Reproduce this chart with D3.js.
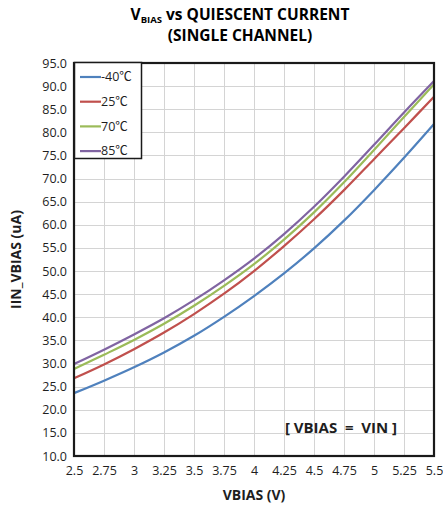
<!DOCTYPE html>
<html>
<head>
<meta charset="utf-8">
<script src="https://cdn.jsdelivr.net/npm/d3@7"></script>
<style>
  html, body { margin: 0; padding: 0; background: #fff; }
  svg { display: block; font-family: "Open Sans", "Noto Sans", sans-serif; }
</style>
</head>
<body>
<svg id="chart" width="443" height="512"></svg>
<script>
// Bias voltage sweep (V)
const vbias = [2.5, 2.75, 3, 3.25, 3.5, 3.75, 4, 4.25, 4.5, 4.75, 5, 5.25, 5.5];

// Quiescent current IIN_VBIAS (uA) per temperature
const iM40 = [23.6, 26.3, 29.2, 32.4, 36.0, 40.1, 44.6, 49.5, 54.9, 60.9, 67.5, 74.5, 81.8];
const i25  = [26.8, 29.8, 33.1, 36.7, 40.7, 45.1, 50.0, 55.4, 61.2, 67.5, 74.2, 80.9, 87.7];
const i70  = [28.8, 31.9, 35.1, 38.6, 42.5, 46.8, 51.5, 56.8, 62.7, 69.2, 76.2, 83.3, 90.4];
const i85  = [29.9, 33.0, 36.3, 39.8, 43.7, 48.0, 52.7, 58.0, 63.9, 70.4, 77.3, 84.3, 91.1];

const seriesTemps = ["-40", "25", "70", "85"];
const seriesColors = ["#4F81BD", "#C0504D", "#9BBB59", "#8064A2"];

const xTicks = [2.5, 2.75, 3, 3.25, 3.5, 3.75, 4, 4.25, 4.5, 4.75, 5, 5.25, 5.5];
const yTicks = d3.range(10, 95.01, 5);

const series = [iM40, i25, i70, i85].map((vals, k) => ({
  temp: seriesTemps[k],
  color: seriesColors[k],
  points: vbias.map((v, i) => [v, vals[i]])
}));

const svg = d3.select("#chart");
const plot = { left: 74, right: 434, top: 63, bottom: 456 };

const x = d3.scaleLinear().domain([2.5, 5.5]).range([plot.left, plot.right]);
const y = d3.scaleLinear().domain([10, 95]).range([plot.bottom, plot.top]);

// Title
const title = svg.append("text")
  .attr("x", 240).attr("y", 20)
  .attr("text-anchor", "middle")
  .attr("font-weight", "bold").attr("font-size", 15.5)
  .attr("fill", "#000");
title.append("tspan").text("V");
title.append("tspan").attr("font-size", 9.5).attr("dy", 3).text("BIAS");
title.append("tspan").attr("dy", -3).text(" vs QUIESCENT CURRENT");

svg.append("text")
  .attr("x", 240).attr("y", 41)
  .attr("text-anchor", "middle")
  .attr("font-weight", "bold").attr("font-size", 15.5)
  .text("(SINGLE CHANNEL)");

// Gridlines
const grid = svg.append("g").attr("stroke", "#d4d4d4").attr("stroke-width", 1);
grid.selectAll("line.h").data(yTicks).join("line")
  .attr("x1", plot.left).attr("x2", plot.right)
  .attr("y1", d => Math.round(y(d)) + 0.5).attr("y2", d => Math.round(y(d)) + 0.5);
grid.selectAll("line.v").data(xTicks).join("line")
  .attr("y1", plot.top).attr("y2", plot.bottom)
  .attr("x1", d => Math.round(x(d)) + 0.5).attr("x2", d => Math.round(x(d)) + 0.5);

// Axes (labels only; frame drawn separately)
const yAxis = svg.append("g")
  .attr("transform", `translate(${plot.left},0)`)
  .call(d3.axisLeft(y).tickValues(yTicks).tickFormat(d3.format(".1f")).tickSize(0).tickPadding(7));
const xAxis = svg.append("g")
  .attr("transform", `translate(0,${plot.bottom})`)
  .call(d3.axisBottom(x).tickValues(xTicks).tickFormat(d => String(d)).tickSize(0).tickPadding(10));
[yAxis, xAxis].forEach(g => {
  g.select(".domain").remove();
  g.selectAll("text").attr("font-size", 12.5).attr("fill", "#1e1e1e")
    .attr("font-family", "'Open Sans', 'Noto Sans', sans-serif");
});

// Curves
const line = d3.line()
  .x(d => x(d[0])).y(d => y(d[1]))
  .curve(d3.curveCatmullRom.alpha(0.5));
svg.append("g").selectAll("path").data(series).join("path")
  .attr("d", d => line(d.points))
  .attr("fill", "none")
  .attr("stroke", d => d.color)
  .attr("stroke-width", 2.2);

// Plot frame
svg.append("rect")
  .attr("x", plot.left).attr("y", plot.top)
  .attr("width", plot.right - plot.left).attr("height", plot.bottom - plot.top)
  .attr("fill", "none").attr("stroke", "#1a1a1a").attr("stroke-width", 2.2);

// Legend
const legend = svg.append("g");
legend.append("rect")
  .attr("x", plot.left + 0.5).attr("y", 62.5)
  .attr("width", 67).attr("height", 96)
  .attr("fill", "#fff").attr("stroke", "#1a1a1a").attr("stroke-width", 1.5);
const items = legend.selectAll("g.item").data(series).join("g")
  .attr("transform", (d, i) => `translate(0,${77 + i * 24.7})`);
items.append("line")
  .attr("x1", 80).attr("x2", 101).attr("y1", 0).attr("y2", 0)
  .attr("stroke", d => d.color).attr("stroke-width", 2.2);
const itemText = items.append("text")
  .attr("x", 101).attr("y", 0).attr("dy", "0.35em")
  .attr("font-size", 12.5).attr("fill", "#1e1e1e");
itemText.append("tspan").text(d => d.temp);
itemText.append("tspan")
  .attr("font-family", "'Noto Sans CJK SC', sans-serif")
  .attr("font-size", 12.5)
  .text("℃");

// Annotation
svg.append("text")
  .attr("x", 341).attr("y", 433)
  .attr("text-anchor", "middle")
  .attr("font-weight", "bold").attr("font-size", 15).attr("fill", "#1e1e1e")
  .attr("xml:space", "preserve")
  .text("[ VBIAS  =  VIN ]");

// Axis titles
svg.append("text")
  .attr("x", (plot.left + plot.right) / 2).attr("y", 500)
  .attr("text-anchor", "middle")
  .attr("font-weight", "bold").attr("font-size", 14).attr("fill", "#1e1e1e")
  .text("VBIAS (V)");

svg.append("text")
  .attr("transform", `translate(21,${(plot.top + plot.bottom) / 2}) rotate(-90)`)
  .attr("text-anchor", "middle")
  .attr("font-weight", "bold").attr("font-size", 14).attr("fill", "#1e1e1e")
  .text("IIN_VBIAS (uA)");
</script>
</body>
</html>
